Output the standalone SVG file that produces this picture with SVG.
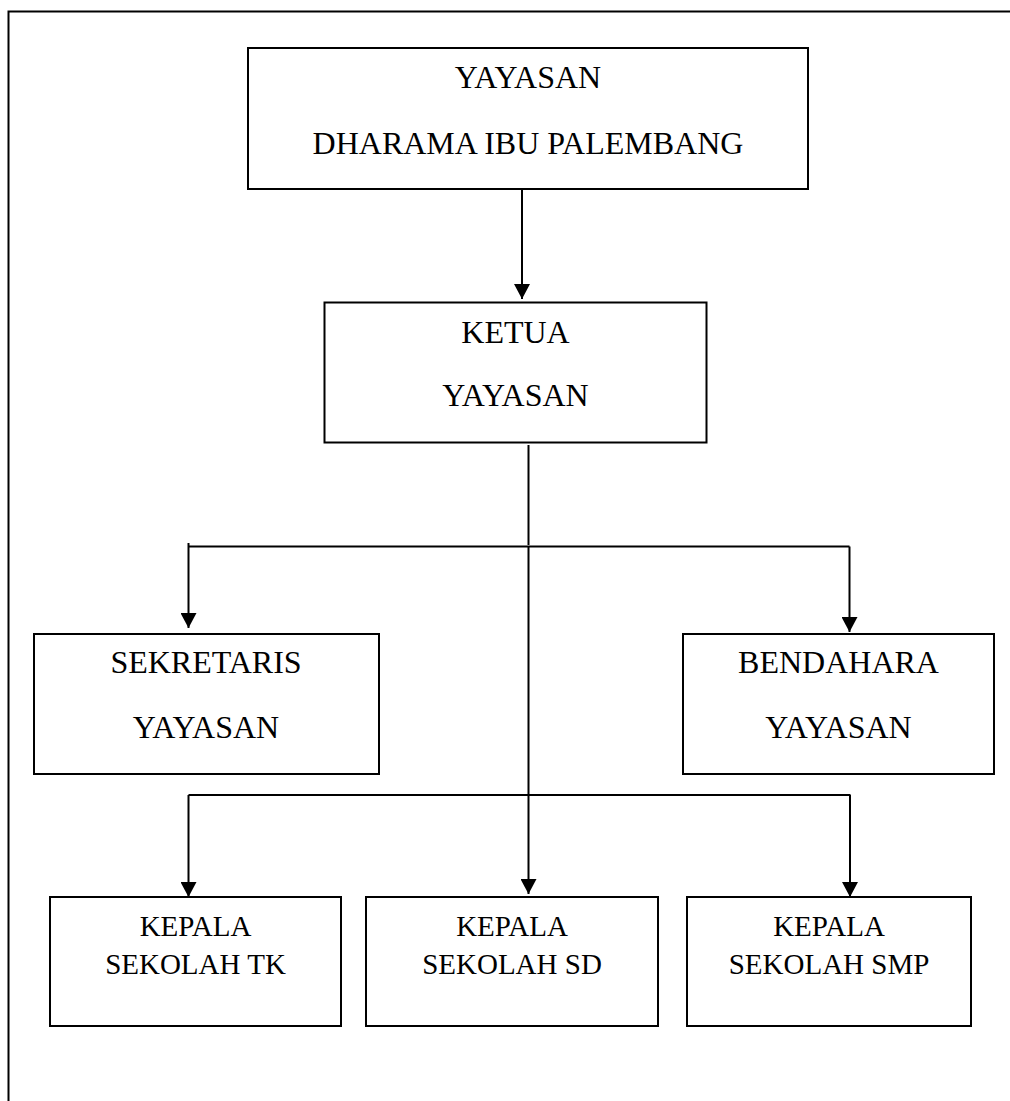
<svg xmlns="http://www.w3.org/2000/svg" width="1010" height="1101" viewBox="0 0 1010 1101">
<style>
.box{fill:#fff;stroke:#000;stroke-width:2}
.t{font-family:"Liberation Serif","Times New Roman",serif;font-size:32px;fill:#000;text-anchor:middle}
.s{font-size:29px}
.c{fill:none;stroke:#000;stroke-width:2}
</style>
<defs>
<marker id="ah" markerUnits="userSpaceOnUse" markerWidth="16" markerHeight="16" refX="15" refY="8" orient="auto" viewBox="0 0 16 16">
<path d="M0,0 L15,8 L0,16 Z" fill="#000"/>
</marker>
</defs>
<rect x="0" y="0" width="1010" height="1101" fill="#fff"/>
<path d="M8.5,1101 V11.5 H1010" fill="none" stroke="#000" stroke-width="2"/>
<g id="connectors">
<path class="c" d="M522,189 V299" marker-end="url(#ah)"/>
<path class="c" d="M528.5,445 V545" stroke-width="1.3"/>
<path class="c" d="M188.5,546.5 H849.5"/>
<path class="c" d="M188.5,543 V628" marker-end="url(#ah)"/>
<path class="c" d="M849.5,546.5 V632" marker-end="url(#ah)"/>
<path class="c" d="M528.5,546 V894" marker-end="url(#ah)"/>
<path class="c" d="M188.5,795 H850.5"/>
<path class="c" d="M188.5,795 V897" marker-end="url(#ah)"/>
<path class="c" d="M850,795 V897" marker-end="url(#ah)"/>
</g>
<g id="yayasan">
<rect class="box" x="248" y="48" width="560" height="141"/>
<text class="t" x="528" y="88">YAYASAN</text>
<text class="t" x="528" y="154">DHARAMA IBU PALEMBANG</text>
</g>
<g id="ketua">
<rect class="box" x="324.5" y="302.5" width="382" height="140"/>
<text class="t" x="515.5" y="343">KETUA</text>
<text class="t" x="515.5" y="406">YAYASAN</text>
</g>
<g id="sekretaris">
<rect class="box" x="34" y="634" width="345" height="140"/>
<text class="t" x="206" y="673">SEKRETARIS</text>
<text class="t" x="206" y="738">YAYASAN</text>
</g>
<g id="bendahara">
<rect class="box" x="683" y="634" width="311" height="140"/>
<text class="t" x="838.5" y="673">BENDAHARA</text>
<text class="t" x="838.5" y="738">YAYASAN</text>
</g>
<g id="tk">
<rect class="box" x="50" y="897" width="291" height="129"/>
<text class="t s" x="195.5" y="936">KEPALA</text>
<text class="t s" x="195.5" y="974">SEKOLAH TK</text>
</g>
<g id="sd">
<rect class="box" x="366" y="897" width="292" height="129"/>
<text class="t s" x="512" y="936">KEPALA</text>
<text class="t s" x="512" y="974">SEKOLAH SD</text>
</g>
<g id="smp">
<rect class="box" x="687" y="897" width="284" height="129"/>
<text class="t s" x="829" y="936">KEPALA</text>
<text class="t s" x="829" y="974">SEKOLAH SMP</text>
</g>
</svg>
